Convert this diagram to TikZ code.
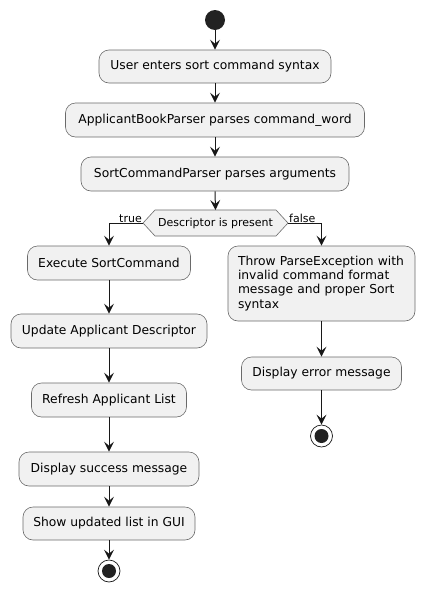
\documentclass[tikz,border=0pt]{standalone}
\usepackage{fontspec}
\setmainfont{DejaVu Sans}
\usetikzlibrary{arrows.meta}
\definecolor{actfill}{HTML}{F1F1F1}
\definecolor{ln}{HTML}{181818}
\definecolor{bd}{HTML}{6A6A6A}
\definecolor{dotc}{HTML}{222222}
\begin{document}
\begin{tikzpicture}[x=1pt,y=-1pt,
  act/.style={draw=bd, line width=0.6pt, fill=actfill, rounded corners=10pt,
    minimum height=34pt, inner sep=0pt, font=\fontsize{12.3}{14.2}\selectfont},
  arr/.style={draw=ln, line width=1pt, -{Stealth[length=10pt,width=10pt,inset=4pt]}},
  lbl/.style={font=\fontsize{11}{13}\selectfont, inner sep=1pt},
  startdot/.style={circle, fill=dotc, minimum size=20pt, inner sep=0pt},
  enddot/.style={circle, draw=ln, line width=0.7pt, fill=white, minimum size=22pt, inner sep=0pt,
    path picture={\fill[dotc] (path picture bounding box.center) circle (7pt);}}]
\useasboundingbox (0,0) rectangle (425,592);
\node[startdot] (start) at (215,20) {};
\node[act, minimum width=232pt, minimum height=33pt] (b1) at (215,66.5) {User enters sort command syntax};
\node[act, minimum width=299pt] (b2) at (215,120) {ApplicantBookParser parses command\_word};
\node[act, minimum width=268pt] (b3) at (215,174) {SortCommandParser parses arguments};
\coordinate (d) at (215.5,223);
\coordinate (dw) at (143,223);
\coordinate (de) at (288,223);
\draw[bd, line width=0.6pt, fill=actfill] (dw) -- (155,210) -- (276,210) -- (de)
  -- (276,236) -- (155,236) -- cycle;
\node[inner sep=0pt, font=\fontsize{11}{13}\selectfont] (dt) at (d) {Descriptor is present};
\node[lbl, anchor=south east] (tl) at ([yshift=-1pt]dw) {true};
\node[lbl, anchor=south west] (fl) at ([yshift=-1pt]de) {false};

\node[act, minimum width=163pt] (exec) at (109,263) {Execute SortCommand};
\node[act, minimum width=196pt] (upd) at (109,331) {Update Applicant Descriptor};
\node[act, minimum width=155pt] (ref) at (109,400) {Refresh Applicant List};
\node[act, minimum width=180pt] (succ) at (109,469) {Display success message};
\node[act, minimum width=172pt, minimum height=33pt] (show) at (109,523.5) {Show updated list in GUI};
\node[enddot] (end1) at (109,571) {};

\node[act, minimum width=187pt, minimum height=75pt, align=left, text width=167pt] (thr) at (321.5,283.5)
  {Throw ParseException with\\invalid command format\\message and proper Sort\\syntax};
\node[act, minimum width=160pt, minimum height=33pt] (err) at (321.5,373.5) {Display error message};
\node[enddot] (end2) at (321.5,436) {};

\draw[arr] (start) -- (b1);
\draw[arr] (b1) -- (b2);
\draw[arr] (b2) -- (b3);
\draw[arr] (b3.south) -- (d |- 0,210);
\draw[arr] (dw) -| (exec.north);
\draw[arr] (de) -| (thr.north);
\draw[arr] (exec) -- (upd);
\draw[arr] (upd) -- (ref);
\draw[arr] (ref) -- (succ);
\draw[arr] (succ) -- (show);
\draw[arr] (show) -- (end1);
\draw[arr] (thr) -- (err);
\draw[arr] (err) -- (end2);
\end{tikzpicture}
\end{document}
